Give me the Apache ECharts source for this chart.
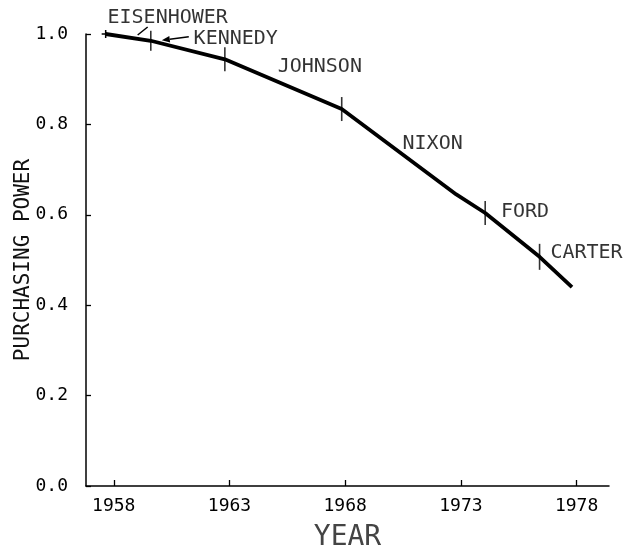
<!DOCTYPE html>
<html>
<head>
<meta charset="utf-8">
<script src="https://cdn.jsdelivr.net/npm/echarts@6/dist/echarts.min.js"></script>
<style>
html,body{margin:0;padding:0;background:#fff;}
#c{width:639px;height:546px;}
</style>
</head>
<body>
<div id="c"></div>
<script>
// Purchasing power of the dollar (1958 = 1.0), vertices
const years = [1957.65, 1959.6, 1962.8, 1967.85, 1972.8, 1974.05, 1976.4, 1977.8];
const power = [1.0, 0.985, 0.944, 0.834, 0.645, 0.604, 0.507, 0.44];

// Presidential terms: start positions on the curve
const presidents = ['EISENHOWER', 'KENNEDY', 'JOHNSON', 'NIXON', 'FORD', 'CARTER'];
const termStart = [1957.65, 1959.6, 1962.8, 1967.85, 1974.05, 1976.4];
const termPower = [1.0, 0.985, 0.944, 0.834, 0.604, 0.507];

const xTicks = [1958, 1963, 1968, 1973, 1978];
const yTicks = [0.0, 0.2, 0.4, 0.6, 0.8, 1.0];

const FONT = '"DejaVu Sans Mono", "Liberation Mono", monospace';

// label placement (styling only)
const labelOffsets = [[1, -16], [42, -2], [52, 7], [60, 35], [15, -1], [10, -4]];
const tickSizes = [0, 20, 24, 24, 24, 26];

const chart = echarts.init(document.getElementById('c'), null, {renderer: 'canvas'});

const linePts = years.map((y, i) => [y, power[i]]);
const termPts = presidents.map((n, i) => ({
  value: [termStart[i], termPower[i]],
  name: n,
  symbolSize: [1.6, tickSizes[i]],
  label: {
    show: true,
    formatter: n,
    position: 'right',
    distance: 0,
    offset: labelOffsets[i]
  }
}));

chart.setOption({
  animation: false,
  backgroundColor: '#fff',
  grid: {left: 86, right: 30, top: 34, bottom: 60, containLabel: false, outerBoundsMode: 'none'},
  xAxis: {
    type: 'value',
    min: 1956.8,
    max: 1979.4,
    name: 'YEAR',
    nameLocation: 'middle',
    nameGap: 38,
    nameMoveOverlap: false,
    nameTextStyle: {fontFamily: FONT, fontSize: 28, color: '#444'},
    axisLine: {show: true, onZero: false, lineStyle: {color: '#000', width: 1.5}},
    axisTick: {show: true, inside: true, length: 6, customValues: xTicks, lineStyle: {color: '#000', width: 1.3}},
    axisLabel: {show: true, customValues: xTicks, margin: 11, fontFamily: FONT, fontSize: 18, color: '#000',
      formatter: v => String(Math.round(v))},
    splitLine: {show: false}
  },
  yAxis: {
    type: 'value',
    min: 0,
    max: 1,
    interval: 0.2,
    name: 'PURCHASING POWER',
    nameLocation: 'middle',
    nameGap: 52,
    nameMoveOverlap: false,
    nameTextStyle: {fontFamily: FONT, fontSize: 21, color: '#111'},
    axisLine: {show: true, lineStyle: {color: '#000', width: 1.5}},
    axisTick: {show: true, inside: true, length: 5, lineStyle: {color: '#000', width: 1.3}},
    axisLabel: {margin: 18, fontFamily: FONT, fontSize: 18, color: '#000',
      formatter: v => v.toFixed(1)},
    splitLine: {show: false}
  },
  series: [
    {
      type: 'line',
      data: linePts,
      symbol: 'none',
      lineStyle: {color: '#000', width: 3.8},
      z: 3
    },
    {
      type: 'scatter',
      data: termPts,
      symbol: 'rect',
      itemStyle: {color: '#000'},
      label: {fontFamily: FONT, fontSize: 20, color: '#000'},
      z: 4
    }
  ]
});

// annotation leaders derived from the data points through the library scales
const pE = chart.convertToPixel({gridIndex: 0}, [termStart[0], termPower[0]]);
const pK = chart.convertToPixel({gridIndex: 0}, [termStart[1], termPower[1]]);
function arrow(x1, y1, x2, y2) {
  const dx = x2 - x1, dy = y2 - y1, L = Math.hypot(dx, dy);
  const ux = dx / L, uy = dy / L, len = 8, w = 3.2;
  const bx = x2 - ux * len, by = y2 - uy * len;
  return [
    {type: 'line', shape: {x1: x1, y1: y1, x2: bx, y2: by}, style: {stroke: '#000', lineWidth: 1.5}},
    {type: 'polygon', shape: {points: [[x2, y2], [bx - uy * w, by + ux * w], [bx + uy * w, by - ux * w]]}, style: {fill: '#000'}}
  ];
}
chart.setOption({
  graphic: [
    {type: 'line', shape: {x1: pE[0] + 42, y1: pE[1] - 7, x2: pE[0] + 32, y2: pE[1] + 1}, style: {stroke: '#000', lineWidth: 1.5}},
    {type: 'line', shape: {x1: pE[0] - 4, y1: pE[1], x2: pE[0] + 4, y2: pE[1]}, style: {stroke: '#000', lineWidth: 1.5}},
    {type: 'line', shape: {x1: pE[0], y1: pE[1] - 4, x2: pE[0], y2: pE[1] + 4}, style: {stroke: '#000', lineWidth: 1.5}}
  ].concat(arrow(pK[0] + 38, pK[1] - 4, pK[0] + 11, pK[1] - 0.5))
});
</script>
</body>
</html>
